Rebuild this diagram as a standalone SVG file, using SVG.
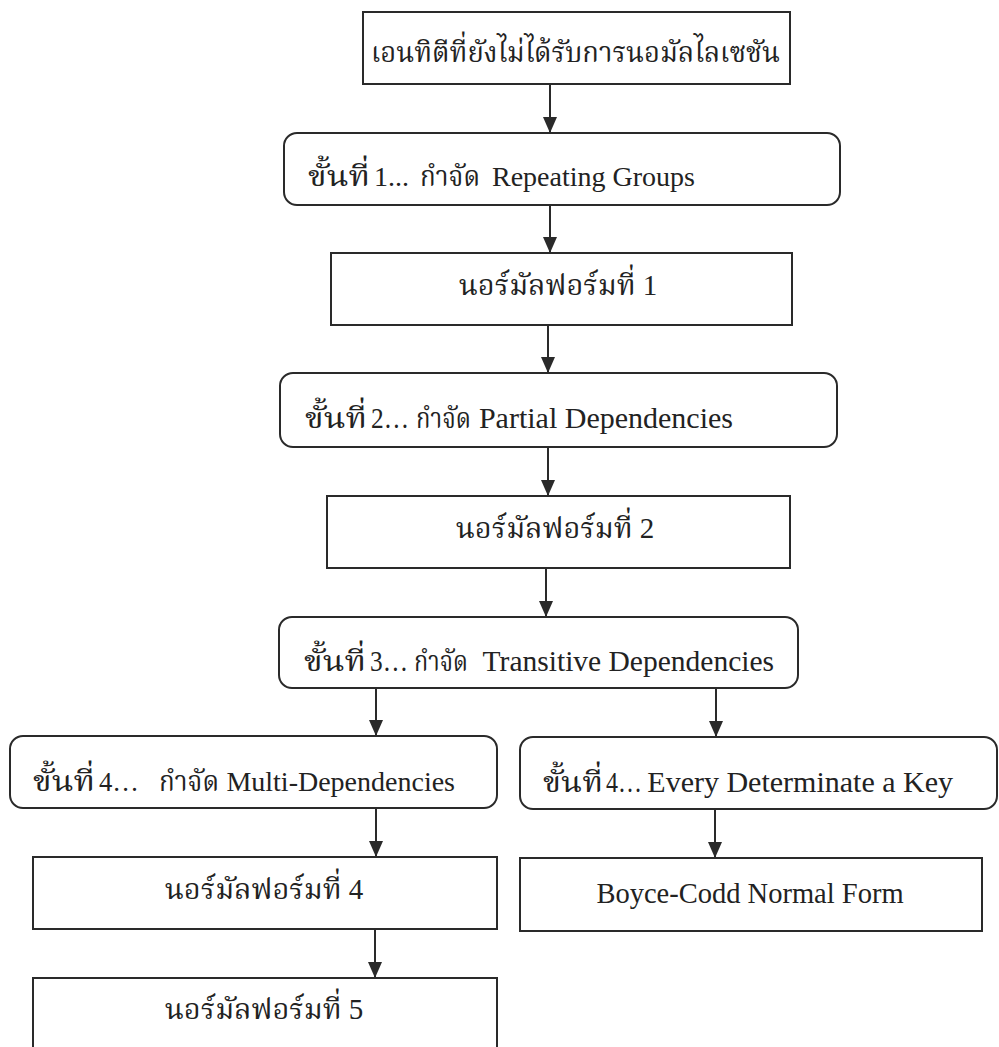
<svg xmlns="http://www.w3.org/2000/svg" width="999" height="1047" viewBox="0 0 999 1047">
  <style>
    .box { fill: #ffffff; stroke: #2a2a2a; stroke-width: 2; }
    .lbl { font-family: "Liberation Serif", "Norasi", "Kinnari", "Noto Serif Thai", "Noto Sans Thai", "Garuda", "Loma", serif; font-size: 28px; fill: #222222; }
    .th { font-size: 29px; }
    .end { text-anchor: end; }
    .mid { text-anchor: middle; }
    .edge { stroke: #2a2a2a; stroke-width: 2; fill: none; marker-end: url(#head); }
  </style>
  <defs>
    <!-- solid triangular arrowhead, drawn pointing along +x -->
    <marker id="head" viewBox="0 0 16 14" refX="16" refY="7" markerWidth="16" markerHeight="14" markerUnits="userSpaceOnUse" orient="auto">
      <path d="M0,0 L16,7 L0,14 Z" fill="#2a2a2a"/>
    </marker>
  </defs>
  <rect width="999" height="1047" fill="#ffffff"/>

  <!-- connectors -->
  <g id="connectors">
    <line class="edge" x1="550" y1="84" x2="550" y2="133"/>
    <line class="edge" x1="550" y1="205" x2="550" y2="253"/>
    <line class="edge" x1="548" y1="325" x2="548" y2="373"/>
    <line class="edge" x1="548" y1="447" x2="548" y2="496"/>
    <line class="edge" x1="546" y1="568" x2="546" y2="617"/>
    <line class="edge" x1="376" y1="688" x2="376" y2="736"/>
    <line class="edge" x1="716" y1="688" x2="716" y2="737"/>
    <line class="edge" x1="376" y1="808" x2="376" y2="857"/>
    <line class="edge" x1="715" y1="809" x2="715" y2="858"/>
    <line class="edge" x1="375" y1="929" x2="375" y2="978"/>
  </g>

  <!-- nodes -->
  <g id="unnormalized">
    <rect class="box" x="363" y="12" width="427" height="72"/>
    <text class="lbl th" x="371" y="62" textLength="409" lengthAdjust="spacingAndGlyphs">เอนทิตีที่ยังไม่ได้รับการนอมัลไลเซชัน</text>
  </g>
  <g id="step1">
    <rect class="box" x="284" y="133" width="556" height="72" rx="13"/>
    <text class="lbl th" x="308" y="186" textLength="62" lengthAdjust="spacingAndGlyphs">ขั้นที่</text>
    <text class="lbl" x="374" y="186">1...</text>
    <text class="lbl th" x="420" y="186" textLength="60" lengthAdjust="spacingAndGlyphs">กำจัด</text>
    <text class="lbl" x="492" y="186">Repeating Groups</text>
  </g>
  <g id="nf1">
    <rect class="box" x="331" y="253" width="461" height="72"/>
    <text class="lbl th mid" x="558" y="295">นอร์มัลฟอร์มที่ 1</text>
  </g>
  <g id="step2">
    <rect class="box" x="280" y="373" width="557" height="74" rx="13"/>
    <text class="lbl th" x="305" y="428" textLength="62" lengthAdjust="spacingAndGlyphs">ขั้นที่</text>
    <text class="lbl" x="371" y="428" textLength="38" lengthAdjust="spacingAndGlyphs" style="font-size:30px">2…</text>
    <text class="lbl th" x="416" y="428" textLength="55" lengthAdjust="spacingAndGlyphs">กำจัด</text>
    <text class="lbl end" x="733" y="428" style="font-size:30px">Partial Dependencies</text>
  </g>
  <g id="nf2">
    <rect class="box" x="327" y="496" width="463" height="72"/>
    <text class="lbl th mid" x="555" y="538">นอร์มัลฟอร์มที่ 2</text>
  </g>
  <g id="step3">
    <rect class="box" x="279" y="617" width="519" height="71" rx="13"/>
    <text class="lbl th" x="304" y="671" textLength="62" lengthAdjust="spacingAndGlyphs">ขั้นที่</text>
    <text class="lbl" x="370" y="671" textLength="38" lengthAdjust="spacingAndGlyphs" style="font-size:30px">3…</text>
    <text class="lbl th" x="414" y="671" textLength="54" lengthAdjust="spacingAndGlyphs">กำจัด</text>
    <text class="lbl end" x="774" y="671" style="font-size:29.5px">Transitive Dependencies</text>
  </g>
  <g id="step4-multi">
    <rect class="box" x="10" y="736" width="487" height="72" rx="13"/>
    <text class="lbl th" x="33" y="791" textLength="62" lengthAdjust="spacingAndGlyphs">ขั้นที่</text>
    <text class="lbl" x="99" y="791" textLength="40" lengthAdjust="spacingAndGlyphs">4…</text>
    <text class="lbl th" x="159" y="791" textLength="60" lengthAdjust="spacingAndGlyphs">กำจัด</text>
    <text class="lbl end" x="455" y="791">Multi-Dependencies</text>
  </g>
  <g id="step4-key">
    <rect class="box" x="520" y="737" width="477" height="72" rx="13"/>
    <text class="lbl th" x="543" y="792" textLength="60" lengthAdjust="spacingAndGlyphs">ขั้นที่</text>
    <text class="lbl" x="606" y="792" textLength="36" lengthAdjust="spacingAndGlyphs" style="font-size:30px">4…</text>
    <text class="lbl end" x="953" y="792" style="font-size:30px">Every Determinate a Key</text>
  </g>
  <g id="nf4">
    <rect class="box" x="33" y="857" width="464" height="72"/>
    <text class="lbl th mid" x="264" y="899">นอร์มัลฟอร์มที่ 4</text>
  </g>
  <g id="bcnf">
    <rect class="box" x="520" y="858" width="462" height="73"/>
    <text class="lbl mid" x="750" y="903" style="font-size:28.5px">Boyce-Codd Normal Form</text>
  </g>
  <g id="nf5">
    <rect class="box" x="33" y="978" width="464" height="90"/>
    <text class="lbl th mid" x="264" y="1019">นอร์มัลฟอร์มที่ 5</text>
  </g>
</svg>
